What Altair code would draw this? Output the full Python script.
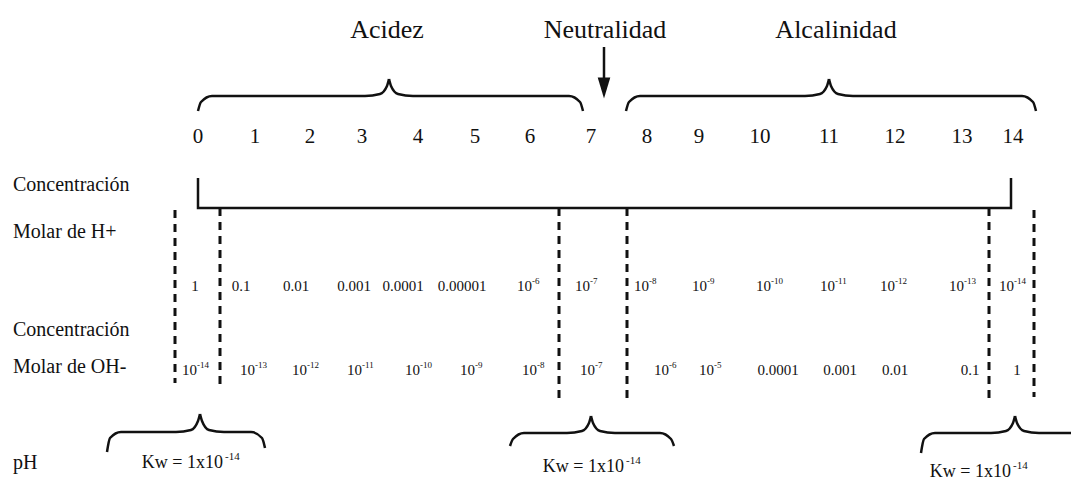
import altair as alt
import pandas as pd

FONT = "Liberation Serif"
INK = "#111111"

# ---- text content ----
titles = ["Acidez", "Neutralidad", "Alcalinidad"]
title_x = [387, 605, 836]
title_y = [30, 30, 30]

ph_labels = ["0", "1", "2", "3", "4", "5", "6", "7", "8", "9", "10", "11", "12", "13", "14"]
ph_x = [198, 255, 310, 362, 418, 475, 530, 591, 647, 699, 760, 829, 895, 962, 1013]
ph_y = 137

row_labels = ["Concentración", "Molar de H+", "Concentración", "Molar de OH-", "pH"]
row_y = [185, 232, 330, 367, 463]
row_x = 13

# molar H+ concentration: mantissa text and power-of-ten exponent ("" = plain number)
h_base = ["1", "0.1", "0.01", "0.001", "0.0001", "0.00001", "10", "10",
          "10", "10", "10", "10", "10", "10", "10"]
h_exp = ["", "", "", "", "", "", "-6", "-7", "-8", "-9", "-10", "-11", "-12", "-13", "-14"]
h_x = [195, 241, 296, 354, 403, 462, 530, 588, 647, 705, 769, 833, 893, 962, 1012]
h_y = 286

oh_base = ["10", "10", "10", "10", "10", "10", "10", "10",
           "10", "10", "0.0001", "0.001", "0.01", "0.1", "1"]
oh_exp = ["-14", "-13", "-12", "-11", "-10", "-9", "-8", "-7",
          "-6", "-5", "", "", "", "", ""]
oh_x = [195, 253, 305, 360, 418, 473, 535, 593, 667, 712, 778, 840, 895, 970, 1017]
oh_y = 370

kw_base = ["Kw = 1x10", "Kw = 1x10", "Kw = 1x10"]
kw_exp = ["-14", "-14", "-14"]
kw_x = [191, 592, 979]
kw_y = [463, 467, 472]

# ---- line work ----
dash_x = [175, 220, 559, 627, 989, 1034]
dash_y1 = [210, 208, 208, 208, 208, 210]
dash_y2 = [383, 385, 400, 402, 400, 397]

bracket_x = [198, 198, 1011, 1011]
bracket_y = [178, 208, 208, 178]

arrow_x = 604
arrow_top = 47
arrow_base = 80
arrow_head_y = 88

# braces: left end, tip, right end, left end y, horizontal y, tip y, right end y
braces = [
    (198, 389, 583, 111, 96, 79, 111),
    (626, 829, 1036, 111, 96, 79, 111),
    (107, 200, 265, 452, 432, 414, 448),
    (510, 591, 674, 446, 433, 416, 446),
    (921, 1015, 1090, 453, 433, 416, 446),
]

xs = alt.Scale(domain=[8, 1071], nice=False, zero=False)
ys = alt.Scale(domain=[8, 480], nice=False, zero=False, reverse=True)


def X(f="x"):
    return alt.X(f"{f}:Q", scale=xs, axis=None)


def Y(f="y"):
    return alt.Y(f"{f}:Q", scale=ys, axis=None)


def text_layer(df, size, align="center", dx=0, dy=0, field="label"):
    return alt.Chart(df).mark_text(
        font=FONT, fontSize=size, color=INK, align=align, baseline="middle",
        dx=dx, dy=dy
    ).encode(x=X(), y=Y(), text=f"{field}:N")


def sci_layers(base, exp, xv, yv, size, exp_size, base_dx, exp_dx, exp_dy):
    df = pd.DataFrame({"label": base, "exp": exp, "x": xv, "y": yv})
    plain = df[df["exp"] == ""]
    power = df[df["exp"] != ""]
    out = []
    if len(plain):
        out.append(text_layer(plain, size))
    if len(power):
        out.append(text_layer(power, size, align="right", dx=base_dx))
        out.append(text_layer(power, exp_size, align="left", dx=exp_dx, dy=exp_dy, field="exp"))
    return out


n = len(ph_labels)
layers = [
    text_layer(pd.DataFrame({"label": titles, "x": title_x, "y": title_y}), 26),
    text_layer(pd.DataFrame({"label": ph_labels, "x": ph_x, "y": [ph_y] * n}), 21),
    text_layer(pd.DataFrame({"label": row_labels, "x": [row_x] * len(row_labels), "y": row_y}),
               20, align="left"),
]
layers += sci_layers(h_base, h_exp, h_x, [h_y] * len(h_x), 15, 9, 2, 2, -5)
layers += sci_layers(oh_base, oh_exp, oh_x, [oh_y] * len(oh_x), 15, 9, 2, 2, -5)
layers += sci_layers(kw_base, kw_exp, kw_x, kw_y, 18, 11, 32, 34, -6)

# dashed verticals
dash_df = pd.DataFrame({"x": dash_x, "y": dash_y1, "y2": dash_y2})
layers.append(
    alt.Chart(dash_df).mark_rule(color=INK, strokeWidth=3, strokeDash=[8, 6]).encode(
        x=X(), y=Y(), y2="y2:Q"
    )
)

# bracket under pH scale
br_df = pd.DataFrame({"x": bracket_x, "y": bracket_y, "o": list(range(len(bracket_x)))})
layers.append(
    alt.Chart(br_df).mark_line(color=INK, strokeWidth=2.5).encode(
        x=X(), y=Y(), order="o:Q"
    )
)

# braces
rows = []
for bi, (x0, xm, x1, yel, yh, yt, yer) in enumerate(braces):
    left = [(x0, yel), (x0 + 3, yh + 6), (x0 + 14, yh), (xm - 24, yh),
            (xm - 9, yh - 2), (xm - 2, yt + 7), (xm, yt)]
    right = [(xm, yt), (xm + 2, yt + 7), (xm + 9, yh - 2), (xm + 24, yh),
             (x1 - 14, yh), (x1 - 3, yh + 6), (x1, yer)]
    for hi, pts in enumerate([left, right]):
        for k, (px, py) in enumerate(pts):
            rows.append({"x": px, "y": py, "part": f"{bi}-{hi}", "o": k})
brace_df = pd.DataFrame(rows)
layers.append(
    alt.Chart(brace_df).mark_line(
        color=INK, strokeWidth=2.5, interpolate="monotone", clip=True
    ).encode(x=X(), y=Y(), detail="part:N", order="o:Q")
)

# neutrality arrow
shaft_df = pd.DataFrame({"x": [arrow_x], "y": [arrow_top], "y2": [arrow_base]})
layers.append(
    alt.Chart(shaft_df).mark_rule(color=INK, strokeWidth=2.5).encode(
        x=X(), y=Y(), y2="y2:Q"
    )
)
head_df = pd.DataFrame({"x": [arrow_x], "y": [arrow_head_y]})
layers.append(
    alt.Chart(head_df).mark_point(
        shape="M-0.6,-1L0.6,-1L0,1Z", size=441, filled=True, color=INK, opacity=1
    ).encode(x=X(), y=Y())
)

chart = alt.layer(*layers).properties(
    width=1063, height=472, padding=0,
    autosize=alt.AutoSizeParams(type="none"),
    background="white",
).configure_view(strokeWidth=0)

chart.save("out.html", embed_options={"renderer": "svg", "actions": False})
